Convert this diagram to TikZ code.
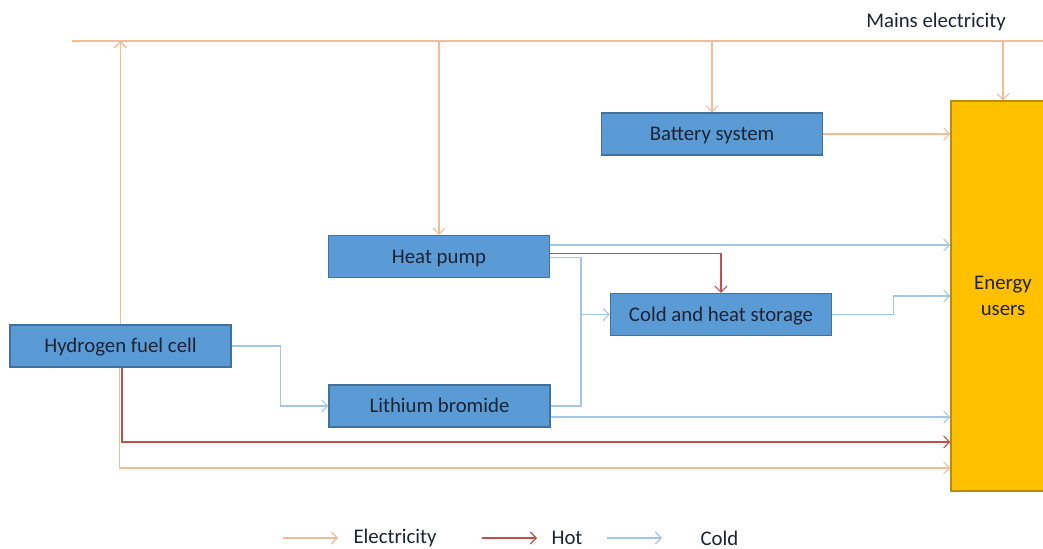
\documentclass[tikz,border=0pt]{standalone}
\usepackage{fontspec}
\setmainfont{Carlito}
\usetikzlibrary{arrows.meta,calc}

\begin{document}
\begin{tikzpicture}[x=0.5pt,y=-0.5pt, line width=0.55pt,
    >={Straight Barb[length=3pt,width=6pt]},
    font=\fontsize{10.4}{13}\selectfont]
  \definecolor{elecC}{HTML}{F2BC98}
  \definecolor{hotC}{HTML}{C0504D}
  \definecolor{coldC}{HTML}{A5C6E2}
  \definecolor{boxfill}{HTML}{5B9BD5}
  \definecolor{boxline}{HTML}{41719C}
  \definecolor{inkC}{HTML}{1C2333}
  \tikzset{
    unit/.style={draw=boxline, fill=boxfill, minimum width=110.5pt, minimum height=21pt, inner sep=0pt,
      text height=7pt, text depth=0pt, text=inkC},
    elec/.style={draw=elecC},
    hot/.style={draw=hotC},
    cold/.style={draw=coldC}
  }
  \useasboundingbox (0,0) rectangle (1043,549);

  % units
  \foreach \n/\x/\y/\t in {battery/712/134/Battery system, heatpump/439/256.5/Heat pump,
      storage/721/314.5/Cold and heat storage, fuelcell/120.5/346/Hydrogen fuel cell,
      libr/439.5/406/Lithium bromide} {
    \node[unit] (\n) at (\x,\y) {\t};
  }
  \node[draw={rgb,255:red,188;green,140;blue,0}, fill={rgb,255:red,255;green,192;blue,0},
    minimum width=52pt, minimum height=195pt, inner sep=0pt, align=center, text=inkC]
    (users) at (1003,296) {Energy\\users};

  % mains
  \coordinate (mainsL) at (72,41);
  \coordinate (mainsR) at (1043,41);
  \draw[elec] (mainsL) -- (mainsR);
  \node[anchor=east, text=inkC] (mains) at (1013,22) {Mains electricity};
  \draw[elec,->] (fuelcell.north) -- (fuelcell.north |- mainsL);
  \foreach \n in {heatpump, battery, users} { \draw[elec,->] (\n.north |- mainsL) -- (\n.north); }

  % flows
  \draw[elec,->] (battery.east) -- (battery.east -| users.west);
  \draw[cold,->] ($(heatpump.east)+(0,-11.5)$) -- ($(heatpump.east -| users.west)+(0,-11.5)$);
  \draw[hot,->] ($(heatpump.east)+(0,-3)$) -| (storage.north);
  \coordinate (split) at (581,314.5);
  \draw[cold] ($(heatpump.east)+(0,1)$) -| (split);
  \draw[cold] (libr.east) -| (split);
  \draw[cold,->] (split) -- (storage.west);
  \draw[cold,->] (storage.east) -- ++(61,0) |- (users.west);
  \draw[cold,->] (fuelcell.east) -- ++(49,0) |- (libr.west);
  \draw[cold,->] ($(libr.east)+(0,11)$) -- ($(libr.east -| users.west)+(0,11)$);
  \draw[elec,->] ($(fuelcell.south)+(-1,0)$) |- (users.west |- 0,468);
  \draw[hot,->] ($(fuelcell.south)+(1.5,0)$) |- (users.west |- 0,442);

  % legend
  \foreach \n/\x/\t in {legElec/353/Electricity, legHot/551/Hot, legCold/700/Cold} {
    \node[anchor=west, inner sep=0pt, text=inkC] (\n) at (\x,538) {\t};
  }
  \draw[elec,->] ($(legElec.west)+(-70,0)$) -- ++(55,0);
  \draw[hot,->] ($(legHot.west)+(-69,0)$) -- ++(55,0);
  \draw[cold,->] ($(legCold.west)+(-93,0)$) -- ++(55,0);
\end{tikzpicture}
\end{document}
